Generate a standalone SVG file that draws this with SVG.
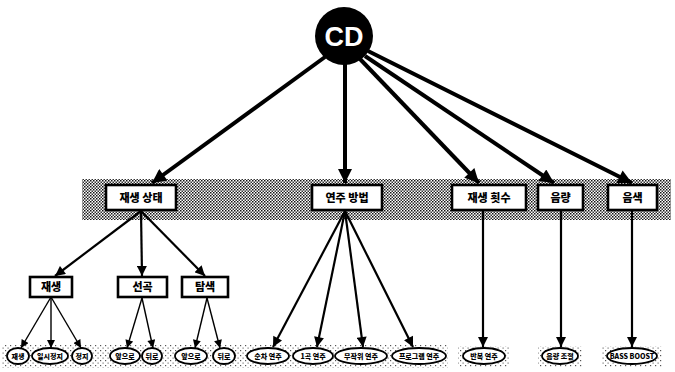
<svg xmlns="http://www.w3.org/2000/svg" width="675" height="372" viewBox="0 0 675 372">
<defs>
<pattern id="dots" width="3" height="3" patternUnits="userSpaceOnUse">
<rect width="3" height="3" fill="#fff"/>
<rect x="0" y="0" width="1.5" height="1.5" fill="#111"/>
<rect x="1.5" y="1.5" width="1.5" height="1.5" fill="#333"/>
</pattern>
<pattern id="dots2" width="5" height="5" patternUnits="userSpaceOnUse">
<rect width="5" height="5" fill="#fff"/>
<rect x="0" y="0" width="1.2" height="1.2" fill="#555"/>
<rect x="2.5" y="2.5" width="1.2" height="1.2" fill="#777"/>
</pattern>
<marker id="big" viewBox="0 0 10 10" refX="10" refY="5" markerWidth="16" markerHeight="14" markerUnits="userSpaceOnUse" orient="auto">
<path d="M0,0 L10,5 L0,10 Z" fill="#000"/>
</marker>
<marker id="mid" viewBox="0 0 10 10" refX="10" refY="5" markerWidth="11" markerHeight="10" markerUnits="userSpaceOnUse" orient="auto">
<path d="M0,0 L10,5 L0,10 Z" fill="#000"/>
</marker>
<marker id="small" viewBox="0 0 10 10" refX="10" refY="5" markerWidth="9" markerHeight="8" markerUnits="userSpaceOnUse" orient="auto">
<path d="M0,0 L10,5 L0,10 Z" fill="#000"/>
</marker>
</defs>
<style>
.box{fill:#fff;stroke:#000;stroke-width:2.6}
.ell{fill:#fff;stroke:#000;stroke-width:1.8}
.t{font-family:"Noto Sans CJK KR","Liberation Sans",sans-serif;font-weight:900;fill:#000;text-anchor:middle}
.tb{font-size:11px}
.ts{font-size:7px}
.a1{stroke:#000;stroke-width:4;fill:none;marker-end:url(#big)}
.a2{stroke:#000;stroke-width:2.2;fill:none;marker-end:url(#mid)}
.a3{stroke:#000;stroke-width:1.4;fill:none;marker-end:url(#small)}
</style>
<rect width="675" height="372" fill="#fff"/>
<!-- shaded bands -->
<rect x="82" y="179" width="589" height="41" fill="url(#dots)"/>
<rect x="2" y="345" width="446" height="23" fill="url(#dots2)"/>
<rect x="458" y="346" width="52" height="21" fill="url(#dots2)"/>
<rect x="538" y="346" width="44" height="21" fill="url(#dots2)"/>
<rect x="602" y="346" width="60" height="21" fill="url(#dots2)"/>

<g id="connectors">
<line class="a1" x1="325" y1="57" x2="152" y2="183"/>
<line class="a1" x1="345" y1="64" x2="345" y2="183"/>
<line class="a1" x1="360" y1="59" x2="479" y2="183"/>
<line class="a1" x1="365" y1="56" x2="554" y2="183"/>
<line class="a1" x1="368" y1="51" x2="632" y2="183"/>
<line class="a2" x1="141" y1="211" x2="55" y2="276"/>
<line class="a2" x1="141" y1="211" x2="142" y2="276"/>
<line class="a2" x1="141" y1="211" x2="205" y2="276"/>
<line class="a2" x1="345" y1="211" x2="273" y2="347"/>
<line class="a2" x1="345" y1="211" x2="317" y2="347"/>
<line class="a2" x1="345" y1="211" x2="363" y2="347"/>
<line class="a2" x1="345" y1="211" x2="413" y2="347"/>
<line class="a2" x1="483" y1="211" x2="483" y2="347"/>
<line class="a2" x1="561" y1="211" x2="561" y2="347"/>
<line class="a2" x1="632" y1="211" x2="632" y2="347"/>
<line class="a3" x1="51" y1="297" x2="21" y2="348"/>
<line class="a3" x1="51" y1="297" x2="51" y2="348"/>
<line class="a3" x1="51" y1="297" x2="81" y2="348"/>
<line class="a3" x1="142" y1="298" x2="127" y2="348"/>
<line class="a3" x1="142" y1="298" x2="153" y2="348"/>
<line class="a3" x1="207" y1="298" x2="195" y2="348"/>
<line class="a3" x1="207" y1="298" x2="220" y2="348"/>
</g>

<g id="cd">
<circle cx="344" cy="36" r="29" fill="#000"/>
<text x="344" y="46" font-family="Liberation Sans,Arial,sans-serif" font-weight="bold" font-size="27" fill="#fff" text-anchor="middle">CD</text>
</g>

<g id="n-playstate"><rect class="box" x="106" y="185" width="70" height="25"/><text class="t tb" x="141" y="201.5">재생 상태</text></g>
<g id="n-method"><rect class="box" x="312" y="185" width="70" height="25"/><text class="t tb" x="347" y="201.5">연주 방법</text></g>
<g id="n-count"><rect class="box" x="452" y="185" width="74" height="25"/><text class="t tb" x="489" y="201.5">재생 횟수</text></g>
<g id="n-volume"><rect class="box" x="538" y="185" width="45" height="25"/><text class="t tb" x="560.5" y="201.5">음량</text></g>
<g id="n-tone"><rect class="box" x="608" y="185" width="49" height="25"/><text class="t tb" x="632.5" y="201.5">음색</text></g>

<g id="n-play"><rect class="box" x="30" y="277" width="42" height="20"/><text class="t tb" x="51" y="291">재생</text></g>
<g id="n-select"><rect class="box" x="118" y="277" width="49" height="20"/><text class="t tb" x="142.5" y="291">선곡</text></g>
<g id="n-search"><rect class="box" x="182" y="277" width="46" height="20"/><text class="t tb" x="205" y="291">탐색</text></g>

<g id="l-play"><ellipse class="ell" cx="18" cy="356" rx="11" ry="8"/><text class="t ts" x="18" y="358.5">재생</text></g>
<g id="l-pause"><ellipse class="ell" cx="50" cy="356" rx="18" ry="8"/><text class="t ts" x="50" y="358.5">일시정지</text></g>
<g id="l-stop"><ellipse class="ell" cx="82" cy="356" rx="10" ry="8"/><text class="t ts" x="82" y="358.5">정지</text></g>
<g id="l-fwd1"><ellipse class="ell" cx="125" cy="356" rx="15" ry="8"/><text class="t ts" x="125" y="358.5">앞으로</text></g>
<g id="l-back1"><ellipse class="ell" cx="152" cy="356" rx="10" ry="8"/><text class="t ts" x="152" y="358.5">뒤로</text></g>
<g id="l-fwd2"><ellipse class="ell" cx="191" cy="356" rx="16" ry="8"/><text class="t ts" x="191" y="358.5">앞으로</text></g>
<g id="l-back2"><ellipse class="ell" cx="224" cy="356" rx="11" ry="8"/><text class="t ts" x="224" y="358.5">뒤로</text></g>
<g id="l-seq"><ellipse class="ell" cx="268" cy="356" rx="21" ry="8"/><text class="t ts" x="268" y="358.5">순차 연주</text></g>
<g id="l-one"><ellipse class="ell" cx="313" cy="356" rx="20" ry="8"/><text class="t ts" x="313" y="358.5">1곡 연주</text></g>
<g id="l-rand"><ellipse class="ell" cx="361" cy="356" rx="26" ry="8"/><text class="t ts" x="361" y="358.5">무작위 연주</text></g>
<g id="l-prog"><ellipse class="ell" cx="419" cy="356" rx="27" ry="8"/><text class="t ts" x="419" y="358.5">프로그램 연주</text></g>
<g id="l-repeat"><ellipse class="ell" cx="484" cy="356" rx="21" ry="8"/><text class="t ts" x="484" y="358.5">반복 연주</text></g>
<g id="l-vol"><ellipse class="ell" cx="560" cy="356" rx="18" ry="8"/><text class="t ts" x="560" y="358.5">음량 조절</text></g>
<g id="l-bass"><ellipse class="ell" cx="632" cy="356" rx="25" ry="8"/><text class="t ts" x="632" y="358.5">BASS BOOST</text></g>
</svg>
